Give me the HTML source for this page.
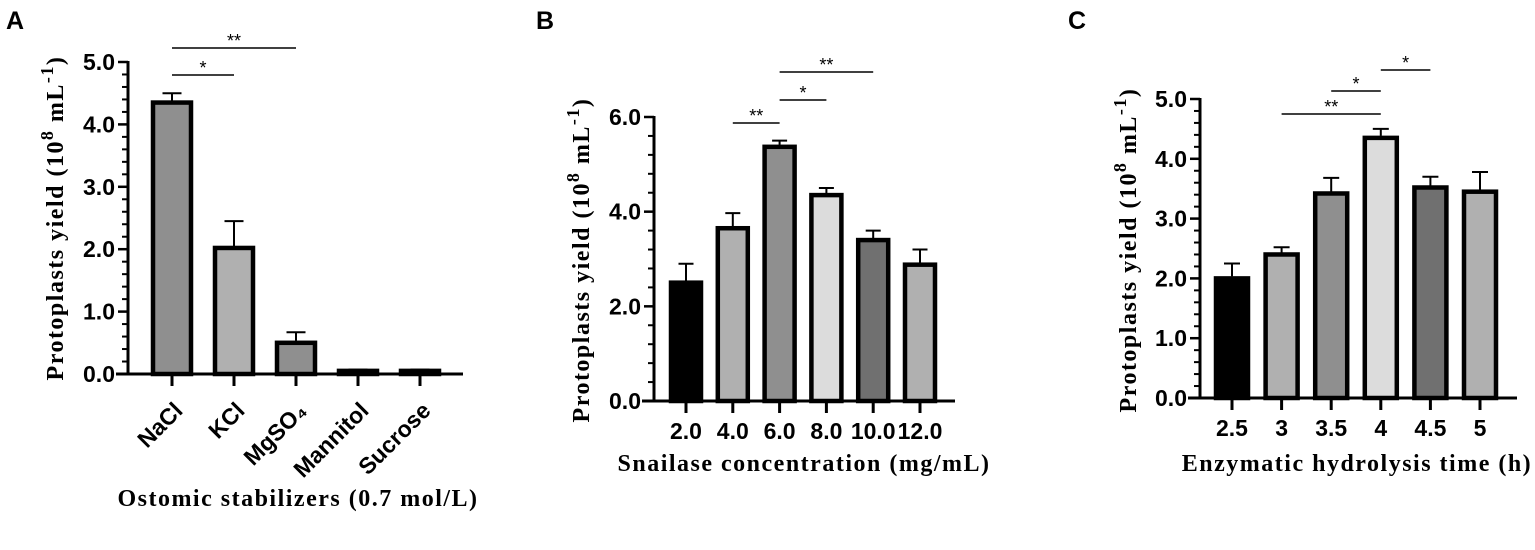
<!DOCTYPE html>
<html><head><meta charset="utf-8"><style>
html,body{margin:0;padding:0;background:#fff;}
svg{display:block;}
.tk{font-family:"Liberation Sans",Arial,sans-serif;font-weight:bold;font-size:23px;fill:#000;}
.tt{font-family:"Liberation Serif","Times New Roman",serif;font-weight:bold;font-size:24px;fill:#000;letter-spacing:1.5px;}
.pl{font-family:"Liberation Sans",Arial,sans-serif;font-weight:bold;font-size:25px;fill:#000;}
.st{font-family:"Liberation Sans",Arial,sans-serif;font-size:18px;fill:#000;}
</style></head><body>
<svg id="fig" width="1535" height="550" viewBox="0 0 1535 550" xmlns="http://www.w3.org/2000/svg"></svg>
<script>
// Panel A data
const catsA = ["NaCl","KCl","MgSO₄","Mannitol","Sucrose"];
const valsA = [4.35, 2.02, 0.50, 0.05, 0.05];
const errA = [0.15, 0.43, 0.17, 0.02, 0.02];
const ticksA = [0,1,2,3,4,5];
// Panel B data
const catsB = ["2.0","4.0","6.0","8.0","10.0","12.0"];
const valsB = [2.50, 3.65, 5.37, 4.35, 3.40, 2.88];
const errB = [0.40, 0.32, 0.13, 0.15, 0.20, 0.32];
const ticksB = [0,2,4,6];
// Panel C data
const catsC = ["2.5","3","3.5","4","4.5","5"];
const valsC = [2.00, 2.40, 3.42, 4.35, 3.52, 3.45];
const errC = [0.25, 0.12, 0.26, 0.15, 0.18, 0.33];
const ticksC = [0,1,2,3,4,5];

const NS="http://www.w3.org/2000/svg";
const svg=document.getElementById('fig');
function mk(tag,attrs,parent){const e=document.createElementNS(NS,tag);for(const k in attrs)e.setAttribute(k,attrs[k]);(parent||svg).appendChild(e);return e;}

function panel(o){
  const g=mk('g',{});
  
  
  const y=v=>o.y0-(v/o.ymax)*(o.y0-o.ytop);
  const x=i=>o.x0c+i*o.step;
  o.vals.forEach((v,i)=>{
    const r=mk('rect',{x:x(i)-o.bw/2,y:y(v),width:o.bw,height:o.y0-y(v),fill:o.colors[i],stroke:'#000','stroke-width':4.5},g);
    
    
    const top=y(v+o.err[i]);
    const e=mk('path',{d:`M${x(i)} ${y(v)-2}V${top}M${x(i)-o.bw/4} ${top}H${x(i)+o.bw/4}`,stroke:'#000','stroke-width':2,fill:'none'},g);
    
    
  });
  const ax=mk('line',{x1:o.ax,y1:o.ytop-1,x2:o.ax,y2:o.y0+1.5,stroke:'#000','stroke-width':3},g);
  
  
  const step=o.ticks[1]-o.ticks[0];
  for(let t=0;t<o.ticks.length;t++){
    const v=o.ticks[t];
    mk('line',{x1:o.ax-10,y1:y(v),x2:o.ax,y2:y(v),stroke:'#000','stroke-width':2.5},g);
    const tl=mk('text',{x:o.ax-13,y:y(v)+8,'text-anchor':'end',class:'tk'},g);
    tl.textContent=v.toFixed(1);
    
    
    if(t<o.ticks.length-1){for(let m=1;m<5;m++){const mv=v+step*m/5;mk('line',{x1:o.ax-6,y1:y(mv),x2:o.ax,y2:y(mv),stroke:'#000','stroke-width':2},g);}}
  }
  const xa=mk('line',{x1:o.ax-12,y1:o.y0,x2:o.xend,y2:o.y0,stroke:'#000','stroke-width':3},g);
  
  
  o.cats.forEach((c,i)=>{
    mk('line',{x1:x(i),y1:o.y0,x2:x(i),y2:o.y0+12,stroke:'#000','stroke-width':3},g);
    let t;
    if(o.rot){t=mk('text',{x:x(i)+12,y:o.y0+38,'text-anchor':'end',class:'tk',transform:`rotate(-45 ${x(i)+12} ${o.y0+38})`},g);}
    else{t=mk('text',{x:x(i),y:o.y0+38,'text-anchor':'middle',class:'tk'},g);}
    t.textContent=c;
    
    
  });
  const yt=mk('text',{x:0,y:0,'text-anchor':'middle',class:'tt',transform:`translate(${o.ytx} ${o.yty}) rotate(-90)`},g);
  yt.innerHTML='Protoplasts yield (10<tspan dy="-10" font-size="18">8</tspan><tspan dy="10"> mL</tspan><tspan dy="-10" font-size="18">-1</tspan><tspan dy="10">)</tspan>';
  
  
  const xt=mk('text',{x:o.xtx,y:o.xty,'text-anchor':'middle',class:'tt'},g);
  xt.textContent=o.xtitle;
  
  
  const pl=mk('text',{x:o.plx,y:29,class:'pl'},g);
  pl.textContent=o.label;
  
  
  o.sig.forEach(s=>{
    const l=mk('line',{x1:x(s[0]),y1:s[2],x2:x(s[1]),y2:s[2],stroke:'#000','stroke-width':1.5},g);
    
    
    const st=mk('text',{x:(x(s[0])+x(s[1]))/2,y:s[2]-1,'text-anchor':'middle',class:'st'},g);
    st.textContent=s[3];
    
    
  });
}

panel({name:'panel-a',label:'A',plx:6,cats:catsA,vals:valsA,err:errA,ticks:ticksA,ymax:5,y0:374,ytop:62,ax:128,xend:463,x0c:172,step:62,bw:38,
  colors:['#8f8f8f','#b0b0b0','#8f8f8f','#8f8f8f','#8f8f8f'],rot:true,ytx:63,yty:218,xtitle:'Ostomic stabilizers (0.7 mol/L)',xtx:298,xty:506,
  sig:[[0,1,75,'*'],[0,2,48,'**']]});
panel({name:'panel-b',label:'B',plx:536,cats:catsB,vals:valsB,err:errB,ticks:ticksB,ymax:6,y0:401,ytop:117,ax:654,xend:955,x0c:686,step:46.8,bw:30,
  colors:['#000','#b0b0b0','#8f8f8f','#dcdcdc','#707070','#b0b0b0'],rot:false,ytx:589,yty:260,xtitle:'Snailase concentration (mg/mL)',xtx:804,xty:471,
  sig:[[1,2,123,'**'],[2,3,100,'*'],[2,4,72,'**']]});
panel({name:'panel-c',label:'C',plx:1068,cats:catsC,vals:valsC,err:errC,ticks:ticksC,ymax:5,y0:398,ytop:99,ax:1200,xend:1517,x0c:1232,step:49.6,bw:32,
  colors:['#000','#b0b0b0','#8f8f8f','#dcdcdc','#707070','#b0b0b0'],rot:false,ytx:1136,yty:250,xtitle:'Enzymatic hydrolysis time (h)',xtx:1357,xty:471,
  sig:[[1,3,114,'**'],[2,3,91,'*'],[3,4,70,'*']]});
</script>
</body></html>
